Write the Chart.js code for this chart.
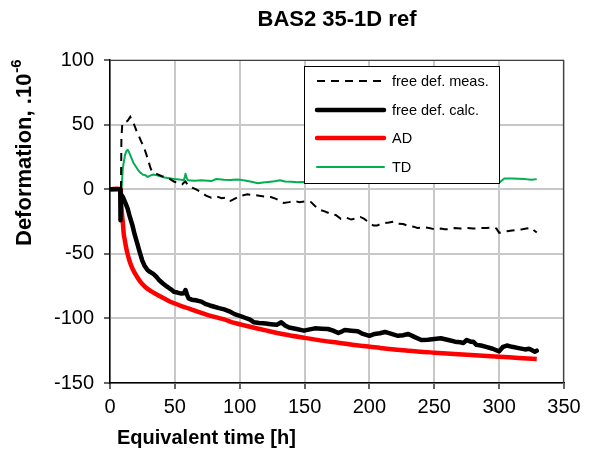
<!DOCTYPE html>
<html><head><meta charset="utf-8">
<script src="https://cdn.jsdelivr.net/npm/chart.js@4/dist/chart.umd.min.js"></script>
<style>html,body{margin:0;padding:0;background:#fff;}</style>
</head><body>
<canvas id="c" width="600" height="452"></canvas>
<script>
const chartTitle = 'BAS2 35-1D ref';
const xTitle = 'Equivalent time [h]';
const yTitleMain = 'Deformation, .10';
const yTitleSup = '-6';
const seriesNames = ['free def. meas.', 'free def. calc.', 'AD', 'TD'];
const xTicks = [0, 50, 100, 150, 200, 250, 300, 350];
const yTicks = [-150, -100, -50, 0, 50, 100];

const timeMeas = [0,7.9,8.0,8.3,8.8,9.5,12,13.6,15.6,17,18.6,20.5,22.3,24,26,28,29.7,31,32.2,34,35.9,40,43.3,46,49.5,53,55.7,57.5,58.2,60,61.9,66,70.5,74,78,82,86,90,93,97,100,102,106,110,115,119,124,128,134,138,142,146,150,155,158,161,165,170,174,178,182,186,190,193,196,200,203,206,210,215,219,222,226,230,234,237,242,246,250,255,258,262,266,270,275,280,285,290,295,298,300,302,306,310,314,318,321,325,327,329];
const meas = [0,0,-23,-22,40,51,52,53,56,53,50,45,41,37,33,27,21.6,17,14,12.5,11.9,10,9.4,8,5.8,5,3.8,5.5,6,3,1.8,0,-2.5,-5,-6.5,-5.5,-7,-6.5,-9,-7,-5,-4.8,-4,-4.5,-5,-5.6,-6,-7.5,-10.7,-10,-9,-10,-9.4,-10,-13,-15.7,-17,-19,-20,-23,-22,-23.5,-22.5,-21.5,-23,-26,-28,-28,-26.5,-25.8,-25,-26.6,-27,-28.5,-29,-30,-29.5,-30,-31,-30.5,-31,-31,-30,-30.5,-30,-30.5,-30,-30,-29.5,-30.5,-33.8,-33.4,-32.6,-32,-31.5,-31,-30.5,-30,-32,-33.5];

const timeCalc = [0,7.9,8.1,8.5,9.9,12.4,13.6,14.9,17.3,19,21,23,24.8,26.5,28.5,30,33.4,36,38,40.8,44,47,49.5,52,55,57,58.2,59.5,60.6,63,66,70.5,74,77,80.4,84,88,92,96,100,104,108,111,115,120,124,128.6,132,135,138,143,149.5,154,158,163,168,172,176,179,181,186,191,195,200,204,208,212,217,222,226,230,235,240,245,250,255,260,266,270,272.5,275,278,280,282.5,286,290,295,300,303,306,310,315,320,323,325,327.5,329];
const calc = [0,0,-24,-4,-6,-12,-15,-20,-28,-35,-42,-49,-55,-59,-62,-63.5,-65.5,-68,-70.5,-73,-75.5,-77.5,-79.5,-80,-80.8,-80.5,-78,-82,-84.5,-85.5,-86,-87,-89,-90,-91,-92,-93,-94.5,-96.7,-98,-99.5,-101,-103,-103.5,-104,-104.5,-105,-103,-105.5,-107,-108,-109.5,-108.5,-107.7,-108,-108.2,-109.5,-111.3,-110,-109,-109.5,-110,-112,-113.5,-112,-111.5,-110.5,-112,-113.5,-113,-112,-114.5,-116.7,-116.5,-116,-115.4,-116.5,-118,-118.5,-119,-116.7,-118,-118,-120.5,-121,-122,-123.5,-125.5,-122,-121,-122,-123,-124,-123.5,-124.5,-125.8,-125];

const timeAD = [0,8,8.2,9.2,10,10.6,11.5,12.4,13.5,14.9,16.5,18.6,21,23.5,27,31,36,40.8,45,50,55,60.6,68,75.5,82,88,96,108,121,135,149.5,162,176,190,208,230,250,275,300,315,329];
const ad = [0,0,-5,-19,-27,-34.6,-40,-44.9,-50,-55,-59.5,-64,-68,-71.8,-75.5,-78.5,-81.5,-84,-86.3,-88.5,-90.5,-92.3,-95,-97.4,-99.2,-100.8,-103.5,-106.5,-109.5,-112.5,-115,-117,-118.8,-120.8,-122.8,-125,-126.5,-128.2,-129.6,-130.6,-131.5];

const timeTD = [0,8,8.3,8.8,9.9,10.8,11.6,12.6,13.6,14.5,16,18,19.8,21.5,23.5,25.5,27.2,29,31,33.4,36,38.4,42,45.8,50,53.2,56.9,57.8,58.2,59,60.1,65,70.5,78,82,87.9,93,97,100,105,110,114,118,122,127,131,135,140,144,148,152,160,170,180,190,200,210,220,230,240,250,260,270,280,290,296,300,304,310,320,325,329];
const td = [0,0,-9,-2,16.5,22,26.6,29.5,30.5,29,25.4,20.5,17.8,15,12.7,11.2,10.9,9.5,10.5,11.4,10.8,10.2,9,8.4,7.8,7.6,6.9,10,11.9,9,6.9,6.6,6.9,6.3,7.9,7.4,7.2,7.6,7.4,6.5,5.5,4.6,5.2,5.6,6.2,7,6,5.8,5.3,5.6,5.4,5.5,5.8,5.5,5.7,5.5,5.8,5.6,5.9,5.8,6,6.2,6.3,6.5,7,7,5,8.3,8.2,7.8,7.3,7.8];

const pts = (xs, ys) => xs.map((x, i) => ({x, y: ys[i]}));
const FONT = "'Liberation Sans', Arial, sans-serif";

const decor = {
  id: 'decor',
  afterDraw(chart) {
    const ctx = chart.ctx;
    const a = chart.chartArea;
    ctx.save();
    // plot box top/right border
    ctx.strokeStyle = '#404040';
    ctx.lineWidth = 1.2;
    ctx.beginPath();
    ctx.moveTo(a.left, a.top + 0.5); ctx.lineTo(a.right - 0.5, a.top + 0.5); ctx.lineTo(a.right - 0.5, a.bottom);
    ctx.stroke();
    // legend box
    const L = 304, T = 66, R = 499, B = 183;
    ctx.fillStyle = '#fff';
    ctx.fillRect(L, T, R - L, B - T);
    ctx.strokeStyle = '#000';
    ctx.lineWidth = 1;
    ctx.strokeRect(L + 0.5, T + 0.5, R - L, B - T);
    const rows = [81, 110, 138, 167];
    chart.data.datasets.forEach((ds, i) => {
      const y = rows[i];
      ctx.strokeStyle = ds.borderColor;
      ctx.lineWidth = ds.borderWidth;
      ctx.setLineDash(ds.borderDash || []);
      ctx.lineCap = ds.borderDash ? 'butt' : 'round';
      ctx.beginPath(); ctx.moveTo(317, y); ctx.lineTo(384, y); ctx.stroke();
      ctx.setLineDash([]);
      ctx.fillStyle = '#000';
      ctx.font = '14.5px ' + FONT;
      ctx.textBaseline = 'middle';
      ctx.textAlign = 'left';
      ctx.fillText(seriesNames[i], 392, y + 1);
    });
    // chart title
    ctx.fillStyle = '#000';
    ctx.font = 'bold 22px ' + FONT;
    ctx.textAlign = 'center';
    ctx.textBaseline = 'middle';
    ctx.fillText(chartTitle, (a.left + a.right) / 2, 20);
    // x title
    ctx.font = 'bold 20px ' + FONT;
    ctx.textAlign = 'left';
    ctx.fillText(xTitle, 117, 438);
    // y title with superscript
    ctx.translate(25, 0);
    ctx.rotate(-Math.PI / 2);
    ctx.font = 'bold 22px ' + FONT;
    const w1 = ctx.measureText(yTitleMain).width;
    ctx.textAlign = 'left';
    ctx.textBaseline = 'middle';
    const startY = -246;
    ctx.fillText(yTitleMain, startY, 0);
    ctx.font = 'bold 15px ' + FONT;
    ctx.fillText(yTitleSup, startY + w1 + 1, -8);
    ctx.restore();
  }
};

new Chart(document.getElementById('c'), {
  type: 'line',
  data: {
    datasets: [
      { label: seriesNames[0], data: pts(timeMeas, meas), borderColor: '#000', borderWidth: 2, borderDash: [8, 6], pointRadius: 0, tension: 0 },
      { label: seriesNames[1], data: pts(timeCalc, calc), borderColor: '#000', borderWidth: 4.5, pointRadius: 0, tension: 0, borderJoinStyle: 'round', borderCapStyle: 'round' },
      { label: seriesNames[2], data: pts(timeAD, ad), borderColor: '#ff0000', borderWidth: 4.5, pointRadius: 0, tension: 0.3, borderJoinStyle: 'round' },
      { label: seriesNames[3], data: pts(timeTD, td), borderColor: '#00b050', borderWidth: 2, pointRadius: 0, tension: 0, borderJoinStyle: 'round' }
    ]
  },
  options: {
    responsive: false,
    animation: false,
    devicePixelRatio: 1,
    layout: { padding: { left: 0, right: 36, top: 60, bottom: 0 } },
    plugins: { legend: { display: false }, title: { display: false }, tooltip: { enabled: false } },
    scales: {
      x: {
        type: 'linear', min: 0, max: 350,
        afterBuildTicks: s => { s.ticks = xTicks.map(v => ({ value: v })); },
        afterFit: s => { s.height = 69; },
        ticks: { color: '#000', font: { family: FONT, size: 20 }, padding: 6, maxRotation: 0 },
        grid: { color: '#c8c8c8', lineWidth: 2, tickColor: '#000', tickLength: 6, tickWidth: 1.2 },
        border: { color: '#000', width: 1.5 }
      },
      y: {
        type: 'linear', min: -150, max: 100,
        afterBuildTicks: s => { s.ticks = yTicks.map(v => ({ value: v })); },
        afterFit: s => { s.width = 110; },
        ticks: { color: '#000', font: { family: FONT, size: 20 }, padding: 10 },
        grid: { color: '#c8c8c8', lineWidth: 2, tickColor: '#000', tickLength: 6, tickWidth: 1.2 },
        border: { color: '#000', width: 1.5 }
      }
    }
  },
  plugins: [decor]
});
</script>
</body></html>
